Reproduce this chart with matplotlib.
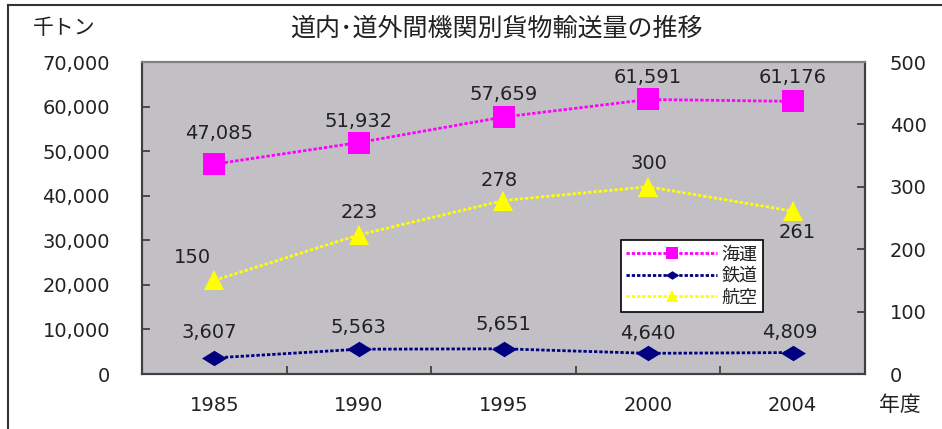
import matplotlib
matplotlib.use("Agg")
import matplotlib.pyplot as plt
from matplotlib.path import Path
from matplotlib.lines import Line2D
from matplotlib.ticker import FuncFormatter, FixedLocator

plt.rcParams['font.family'] = ['Noto Sans CJK JP', 'DejaVu Sans']

years = ["1985", "1990", "1995", "2000", "2004"]
sea = [47085, 51932, 57659, 61591, 61176]      # 海運 (left axis, 千トン)
rail = [3607, 5563, 5651, 4640, 4809]          # 鉄道 (left axis)
air = [150, 223, 278, 300, 261]                # 航空 (right axis)
left_ticks = [0, 10000, 20000, 30000, 40000, 50000, 60000, 70000]
right_ticks = [0, 100, 200, 300, 400, 500]

W, H = 942, 429
fig = plt.figure(figsize=(W / 100, H / 100), dpi=100)
L, R, T, B = 142, 865, 62, 374
ax = fig.add_axes([L / W, 1 - B / H, (R - L) / W, (B - T) / H])
ax.set_facecolor('#C2C0C5')
ax2 = ax.twinx()
ax2.patch.set_visible(False)

x = list(range(len(years)))
txt = '#222222'
NF = 14
numfont = dict(family='DejaVu Sans', fontsize=NF, color=txt)

diamond = Path([(-1, 0), (0, 0.62), (1, 0), (0, -0.62), (-1, 0)],
               [Path.MOVETO, Path.LINETO, Path.LINETO, Path.LINETO, Path.CLOSEPOLY])

ls = (0, (1.2, 0.7))
l1, = ax.plot(x, sea, color='#FF00FF', lw=2, ls=ls, marker='s',
              markersize=16, markeredgewidth=0, label='海運', zorder=3)
l2, = ax.plot(x, rail, color='#000080', lw=2, ls=ls, marker=diamond,
              markersize=18, markeredgewidth=0, label='鉄道', zorder=3)
l3, = ax2.plot(x, air, color='#FFFF00', lw=2, ls=ls, marker='^',
               markersize=15, markeredgewidth=0, label='航空', zorder=3)

ax.set_xlim(-0.5, len(years) - 0.5)
ax.set_ylim(0, 70000)
ax2.set_ylim(0, 500)

fmt = FuncFormatter(lambda v, p: f"{int(v):,}")
ax.yaxis.set_major_locator(FixedLocator(left_ticks))
ax.yaxis.set_major_formatter(fmt)
ax2.yaxis.set_major_locator(FixedLocator(right_ticks))
ax2.yaxis.set_major_formatter(FuncFormatter(lambda v, p: f"{int(v)}"))

ax.set_xticks(x)
ax.set_xticklabels(years)
ax.set_xticks([i + 0.5 for i in x[:-1]], minor=True)
ax.tick_params(axis='x', which='major', length=0, pad=16, labelsize=NF, labelcolor=txt)
ax.tick_params(axis='x', which='minor', direction='in', length=6, width=1.3, color='#404040')
ax.tick_params(axis='y', direction='in', length=6, width=1.3, color='#404040',
               pad=23, labelsize=NF, labelcolor=txt)
ax2.tick_params(axis='y', direction='in', length=6, width=1.3, color='#404040',
                pad=18, labelsize=NF, labelcolor=txt)
for lab in ax.get_xticklabels() + ax.get_yticklabels() + ax2.get_yticklabels():
    lab.set_family('DejaVu Sans')

for a in (ax, ax2):
    for s in a.spines.values():
        s.set_color('#404040')
        s.set_linewidth(1.5)
ax.spines['top'].set_color('#808080')
ax2.spines['top'].set_color('#808080')

# data labels
sea_off = [(5, 31), (0, 21), (0, 23), (0, 22), (0, 24)]
rail_off = [(-5, 25), (0, 22), (0, 24), (0, 20), (-3, 20)]
air_off = [(-22, 23), (0, 22), (-4, 20), (1, 23), (4, -21)]
for i in x:
    ax.annotate(f"{sea[i]:,}", (x[i], sea[i]), xytext=sea_off[i], textcoords='offset pixels',
                ha='center', va='center', **numfont)
    ax.annotate(f"{rail[i]:,}", (x[i], rail[i]), xytext=rail_off[i], textcoords='offset pixels',
                ha='center', va='center', **numfont)
    ax2.annotate(f"{air[i]}", (x[i], air[i]), xytext=air_off[i], textcoords='offset pixels',
                 ha='center', va='center', **numfont)

leg = ax2.legend(handles=[l1, l2, l3], loc='upper left',
                 bbox_to_anchor=((621 - L) / (R - L), (B - 240) / (B - T)),
                 frameon=True, fancybox=False, framealpha=1, edgecolor='black',
                 fontsize=13, handlelength=5.0, handletextpad=0.25, borderpad=0.3,
                 labelspacing=0.2, borderaxespad=0, markerscale=0.55)
leg.get_frame().set_linewidth(1.2)
for t in leg.get_texts():
    t.set_color(txt)

# titles / units
fig.text(496 / W, 1 - 29 / H, '道内･道外間機関別貨物輸送量の推移', ha='center', va='center',
         fontsize=18, color=txt)
fig.text(64 / W, 1 - 28 / H, '千トン', ha='center', va='center', fontsize=15, color=txt)
fig.text(900 / W, 1 - 405 / H, '年度', ha='center', va='center', fontsize=15, color=txt)

# figure border (left and top)
fig.add_artist(Line2D([8 / W, 8 / W], [0, 1 - 5 / H], transform=fig.transFigure,
                      color='#333333', lw=1.5))
fig.add_artist(Line2D([8 / W, 1], [1 - 5 / H, 1 - 5 / H], transform=fig.transFigure,
                      color='#333333', lw=1.5))

fig.savefig('out.png', dpi=100)
